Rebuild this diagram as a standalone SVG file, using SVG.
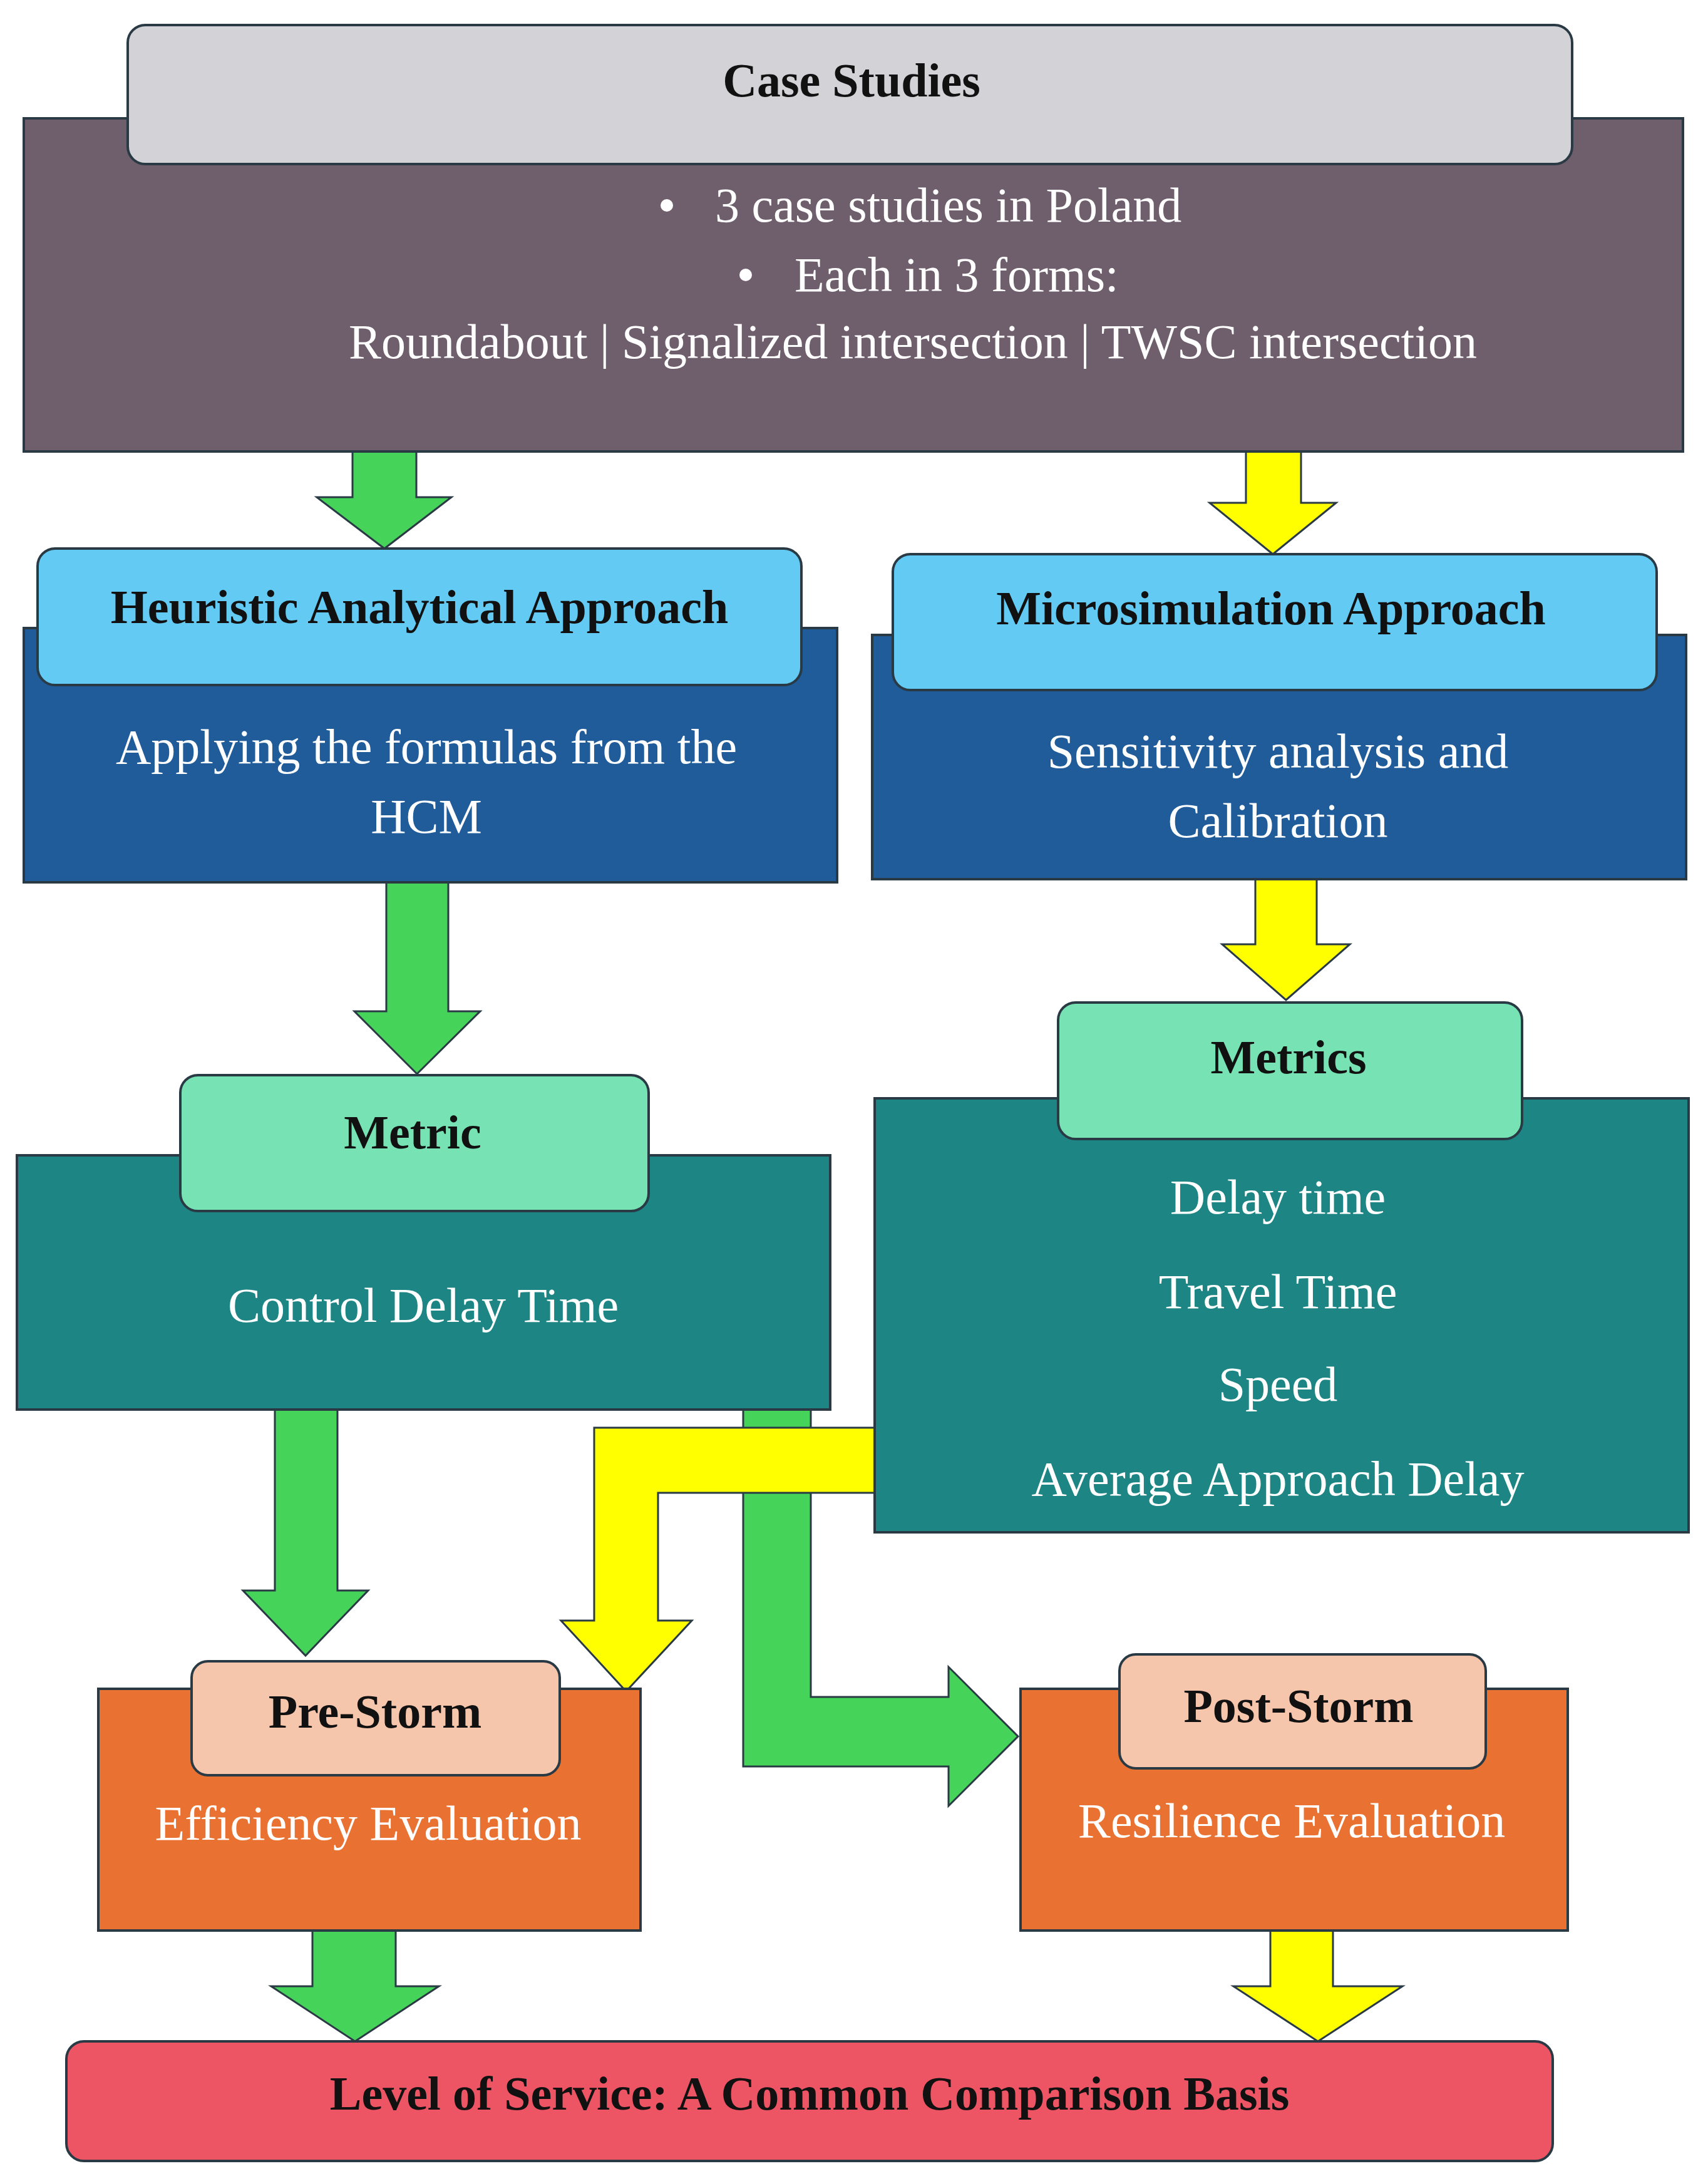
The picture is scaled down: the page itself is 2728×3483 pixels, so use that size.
<svg xmlns="http://www.w3.org/2000/svg" width="2728" height="3483" viewBox="0 0 2728 3483">
<style>
.b{stroke:#2a3a45;stroke-width:4}
.h{font-family:"Liberation Serif",serif;font-weight:bold;font-size:76px;fill:#111;text-anchor:middle}
.t{font-family:"Liberation Serif",serif;font-size:78px;fill:#fff;text-anchor:middle}
.g{fill:#46D35A;stroke:#2a3a45;stroke-width:3}
.y{fill:#FFFF00;stroke:#2a3a45;stroke-width:3}
</style>
<rect width="2728" height="3483" fill="#fff"/>
<g id="connectors">
<polygon class="g" points="563,721 665,721 665,794 721,794 614,876 506,794 563,794"/>
<polygon class="y" points="1990,721 2078,721 2078,803 2134,803 2033,885 1932,803 1990,803"/>
<polygon class="g" points="617,1409 716,1409 716,1615 767,1615 666,1715 566,1615 617,1615"/>
<polygon class="y" points="2005,1404 2103,1404 2103,1508 2156,1508 2054,1597 1952,1508 2005,1508"/>
<polygon class="g" points="439,2251 539,2251 539,2540 588,2540 488,2644 388,2540 439,2540"/>
<polygon class="g" points="1187,2251 1295,2251 1295,2710 1515,2710 1515,2662 1626,2773 1515,2884 1515,2821 1187,2821"/>
<polygon class="y" points="1402,2280 1402,2384 1051,2384 1051,2588 1105,2588 1000,2701 896,2588 949,2588 949,2280"/>
<polygon class="g" points="499,3083 632,3083 632,3172 701,3172 567,3260 433,3172 499,3172"/>
<polygon class="y" points="2029,3083 2129,3083 2129,3172 2240,3172 2105,3260 1970,3172 2029,3172"/>
</g>
<g id="case">
<rect class="b" x="38" y="189" width="2650" height="532" fill="#6F5F6D"/>
<rect class="b" x="204" y="40" width="2307" height="222" rx="28" fill="#D3D2D6"/>
<text class="h" x="1360" y="154">Case Studies</text>
<circle cx="1065" cy="328" r="10" fill="#fff"/>
<text class="t" x="1142" y="354" text-anchor="start" style="text-anchor:start">3 case studies in Poland</text>
<circle cx="1191" cy="439" r="10" fill="#fff"/>
<text class="t" x="1269" y="465" style="text-anchor:start">Each in 3 forms:</text>
<text class="t" x="1458" y="572">Roundabout | Signalized intersection | TWSC intersection</text>
</g>
<g id="heuristic">
<rect class="b" x="38" y="1003" width="1299" height="406" fill="#1F5C99"/>
<rect class="b" x="60" y="876" width="1220" height="218" rx="28" fill="#63CBF3"/>
<text class="h" x="670" y="995">Heuristic Analytical Approach</text>
<text class="t" x="681" y="1219">Applying the formulas from the</text>
<text class="t" x="681" y="1330">HCM</text>
</g>
<g id="micro">
<rect class="b" x="1393" y="1014" width="1300" height="390" fill="#1F5C99"/>
<rect class="b" x="1426" y="885" width="1220" height="217" rx="28" fill="#63CBF3"/>
<text class="h" x="2030" y="997">Microsimulation Approach</text>
<text class="t" x="2041" y="1226">Sensitivity analysis and</text>
<text class="t" x="2041" y="1337">Calibration</text>
</g>
<g id="metric">
<rect class="b" x="27" y="1845" width="1299" height="406" fill="#1D8584"/>
<rect class="b" x="288" y="1717" width="748" height="217" rx="28" fill="#77E2B3"/>
<text class="h" x="659" y="1834">Metric</text>
<text class="t" x="676" y="2111">Control Delay Time</text>
</g>
<g id="metrics">
<rect class="b" x="1397" y="1754" width="1300" height="693" fill="#1D8584"/>
<rect class="b" x="1690" y="1601" width="741" height="218" rx="28" fill="#77E2B3"/>
<text class="h" x="2058" y="1714">Metrics</text>
<text class="t" x="2041" y="1938">Delay time</text>
<text class="t" x="2041" y="2089">Travel Time</text>
<text class="t" x="2041" y="2237">Speed</text>
<text class="t" x="2041" y="2388">Average Approach Delay</text>
</g>
<g id="prestorm">
<rect class="b" x="157" y="2697" width="866" height="386" fill="#E97132"/>
<rect class="b" x="306" y="2653" width="588" height="182" rx="26" fill="#F6C6AC"/>
<text class="h" x="599" y="2759">Pre-Storm</text>
<text class="t" x="588" y="2938">Efficiency Evaluation</text>
</g>
<g id="poststorm">
<rect class="b" x="1630" y="2697" width="874" height="386" fill="#E97132"/>
<rect class="b" x="1788" y="2642" width="585" height="182" rx="26" fill="#F6C6AC"/>
<text class="h" x="2074" y="2750">Post-Storm</text>
<text class="t" x="2063" y="2934">Resilience Evaluation</text>
</g>
<g id="los">
<rect class="b" x="106" y="3260" width="2374" height="191" rx="28" fill="#EE5564"/>
<text class="h" x="1293" y="3369">Level of Service: A Common Comparison Basis</text>
</g>
</svg>
